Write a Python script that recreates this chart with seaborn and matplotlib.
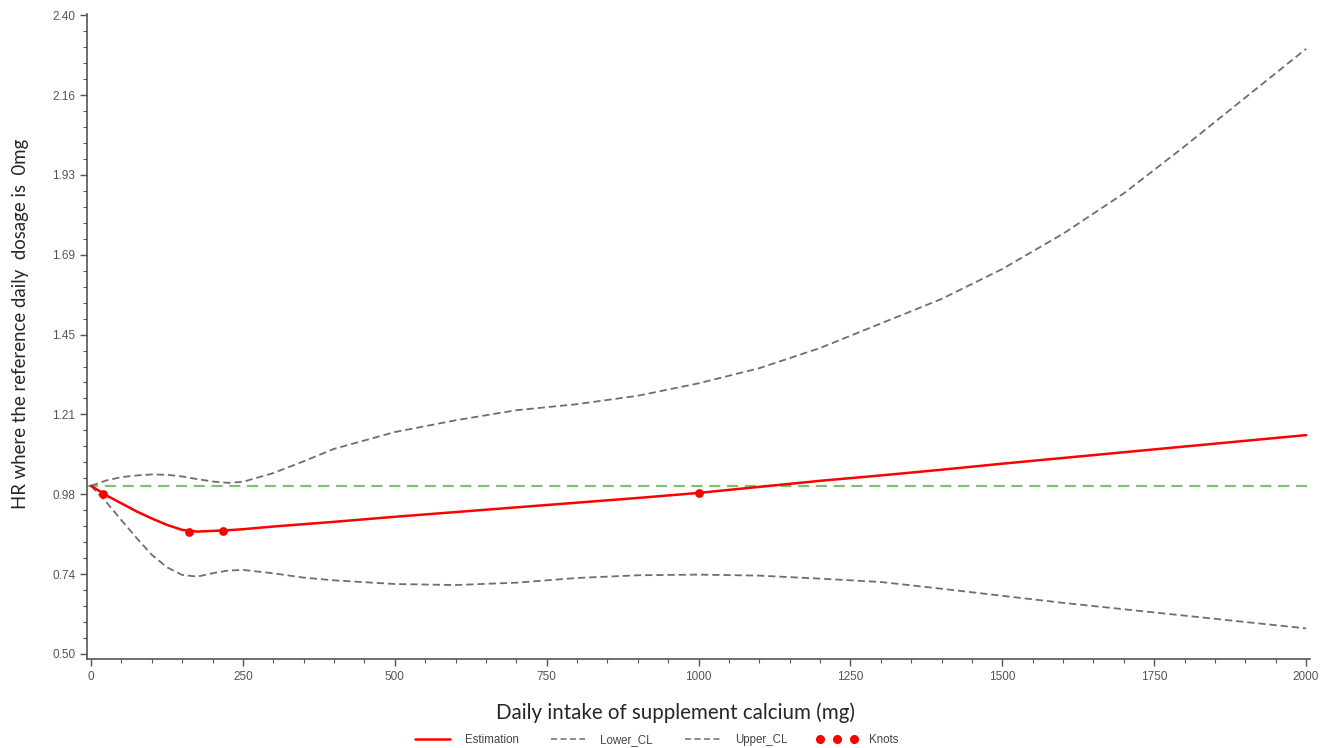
"""Restricted cubic spline: HR of supplement calcium vs 0 mg reference."""

import matplotlib
matplotlib.use("Agg")
import matplotlib.pyplot as plt
import matplotlib.ticker as mticker
from matplotlib.lines import Line2D
import pandas as pd
import seaborn as sns

# ---------------------------------------------------------------------------
# Data
# ---------------------------------------------------------------------------

dose = [0, 25, 50, 75, 100, 125, 150, 175, 200, 225, 250, 300, 350, 400,
        500, 600, 700, 800, 900, 1000, 1100, 1200, 1300, 1400, 1500, 1600,
        1700, 1800, 1900, 2000]

estimation = [1.000, 0.972, 0.948, 0.924, 0.903, 0.884, 0.869, 0.864, 0.866,
              0.868, 0.871, 0.879, 0.886, 0.893, 0.908, 0.922, 0.936, 0.950,
              0.964, 0.979, 0.997, 1.015, 1.031, 1.048, 1.066, 1.083, 1.100,
              1.117, 1.134, 1.151]

lower_cl = [1.000, 0.952, 0.898, 0.845, 0.795, 0.758, 0.735, 0.730, 0.740,
            0.748, 0.750, 0.740, 0.727, 0.719, 0.708, 0.705, 0.712, 0.726,
            0.734, 0.736, 0.733, 0.724, 0.714, 0.694, 0.673, 0.652, 0.633,
            0.614, 0.595, 0.576]

upper_cl = [1.000, 1.016, 1.026, 1.031, 1.034, 1.033, 1.028, 1.020, 1.013,
            1.009, 1.012, 1.038, 1.073, 1.110, 1.160, 1.195, 1.225, 1.243,
            1.268, 1.305, 1.350, 1.410, 1.483, 1.556, 1.645, 1.750, 1.870,
            2.010, 2.155, 2.300]

knot_dose = [20, 161, 217, 1000]
knot_hr = [0.976, 0.864, 0.867, 0.979]

reference_hr = 1.0

y_ticks = [0.50, 0.7375, 0.975, 1.2125, 1.45, 1.6875, 1.925, 2.1625, 2.40]
y_tick_labels = ["0.50", "0.74", "0.98", "1.21", "1.45", "1.69", "1.93", "2.16", "2.40"]
x_ticks = [0, 250, 500, 750, 1000, 1250, 1500, 1750, 2000]

RED = "#ff0000"
GREY = "#6e6e6e"
GREEN = "#7cc16f"
TICK_GREY = "#555555"

# ---------------------------------------------------------------------------
# Plot
# ---------------------------------------------------------------------------

sns.set_style("ticks")
plt.rcParams["font.family"] = ["Liberation Sans", "DejaVu Sans"]

df = pd.DataFrame({"dose": dose, "Estimation": estimation,
                   "Lower_CL": lower_cl, "Upper_CL": upper_cl})
knots = pd.DataFrame({"dose": knot_dose, "hr": knot_hr})

fig = plt.figure(figsize=(13.26, 7.48), dpi=100)
ax = fig.add_axes([0.0656, 0.119, 0.9224, 0.862])

ax.axhline(reference_hr, color=GREEN, linestyle=(0, (5, 3)), linewidth=1.6, zorder=1)

sns.lineplot(data=df, x="dose", y="Lower_CL", ax=ax, color=GREY,
             linestyle=(0, (4, 2.2)), linewidth=1.3, zorder=2)
sns.lineplot(data=df, x="dose", y="Upper_CL", ax=ax, color=GREY,
             linestyle=(0, (4, 2.2)), linewidth=1.3, zorder=2)
sns.lineplot(data=df, x="dose", y="Estimation", ax=ax, color=RED,
             linewidth=1.8, zorder=3)
sns.scatterplot(data=knots, x="dose", y="hr", ax=ax, color=RED, s=40,
                edgecolor=RED, linewidth=0, zorder=4)

ax.set_xlim(-6.6, 2006.6)
ax.set_ylim(0.485, 2.403)

ax.xaxis.set_major_locator(mticker.FixedLocator(x_ticks))
ax.xaxis.set_minor_locator(mticker.MultipleLocator(50))
ax.yaxis.set_major_locator(mticker.FixedLocator(y_ticks))
ax.yaxis.set_major_formatter(mticker.FixedFormatter(y_tick_labels))
ax.yaxis.set_minor_locator(mticker.FixedLocator(
    [0.5 + i * 0.0475 for i in range(41)]))

ax.tick_params(axis="both", which="major", length=5, width=1,
               color=TICK_GREY, labelcolor=TICK_GREY, labelsize=8.5)
ax.tick_params(axis="both", which="minor", length=3, width=0.8, color=TICK_GREY)

sns.despine(ax=ax)
for side in ("left", "bottom"):
    ax.spines[side].set_color(TICK_GREY)
    ax.spines[side].set_linewidth(1.2)

ax.set_xlabel("Daily intake of supplement calcium (mg)", fontsize=14.8,
              family=["Lato", "DejaVu Sans"])
ax.set_ylabel("HR where the reference daily  dosage is  0mg", fontsize=13.4,
              family=["Lato", "DejaVu Sans"])
ax.xaxis.set_label_coords(0.481, -0.068)
ax.yaxis.set_label_coords(-0.047, 0.52)

handles = [
    Line2D([], [], color=RED, linewidth=1.8),
    Line2D([], [], color=GREY, linestyle=(0, (4, 2.2)), linewidth=1.1),
    Line2D([], [], color=GREY, linestyle=(0, (4, 2.2)), linewidth=1.1),
    Line2D([], [], color=RED, marker="o", markersize=5.5, linestyle="none"),
]
labels = ["Estimation", "Lower_CL", "Upper_CL", "Knots"]
leg = fig.legend(handles, labels, loc="center", bbox_to_anchor=(0.494, 0.011),
                 ncol=4, frameon=False, fontsize=8.3, numpoints=3,
                 handlelength=3.6, columnspacing=2.5, handletextpad=1.0)
for t in leg.get_texts():
    t.set_color("#444444")

fig.savefig("out.png", dpi=100)
plt.close(fig)
